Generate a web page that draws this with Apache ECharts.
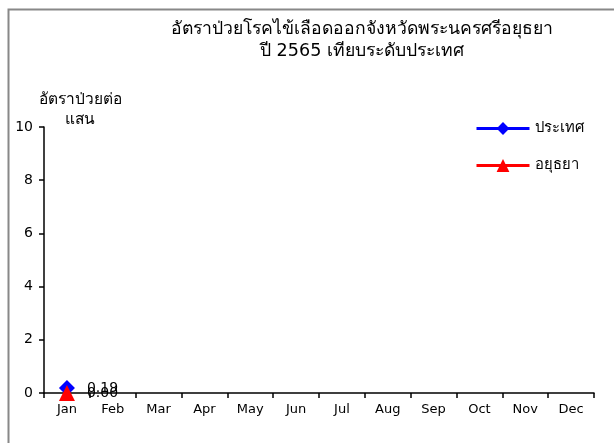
<!DOCTYPE html>
<html><head><meta charset="utf-8">
<script src="https://cdn.jsdelivr.net/npm/echarts@6/dist/echarts.min.js"></script>
<style>html,body{margin:0;padding:0;background:#fff}#c{width:614px;height:443px}</style>
</head><body><div id="c"></div>
<script>
var months = ['Jan','Feb','Mar','Apr','May','Jun','Jul','Aug','Sep','Oct','Nov','Dec'];
var countryRate = [0.19, null, null, null, null, null, null, null, null, null, null, null];
var ayutRate = [0.00, null, null, null, null, null, null, null, null, null, null, null];
var yTicks = [0, 2, 4, 6, 8, 10];
var FONT = 'Tahoma, "DejaVu Sans", "Noto Sans", sans-serif';
var chart = echarts.init(document.getElementById('c'));
chart.setOption({
  animation: false,
  textStyle: {fontFamily: FONT},
  graphic: [{type:'rect', shape:{x:8.5,y:9.5,width:620,height:450}, style:{fill:null, stroke:'#888', lineWidth:2}, silent:true}],
  title: {
    text: 'อัตราป่วยโรคไข้เลือดออกจังหวัดพระนครศรีอยุธยา\nปี 2565 เทียบระดับประเทศ',
    left: 362, top: 18, textAlign: 'center', padding: 0,
    textStyle: {fontSize: 17.6, fontWeight: 'normal', color: '#000', lineHeight: 22, fontFamily: FONT}
  },
  legend: {
    orient: 'vertical', left: 475, top: 121, itemGap: 22, padding: 0,
    itemWidth: 53, itemHeight: 16,
    lineStyle: {width: 3},
    textStyle: {fontSize: 14.8, color: '#000', fontFamily: FONT},
    data: ['ประเทศ', 'อยุธยา']
  },
  grid: {left: 44, right: 20, top: 127, bottom: 50, containLabel: false, outerBoundsMode: 'none'},
  xAxis: {
    type: 'category', data: months, boundaryGap: true,
    axisLine: {lineStyle: {color: '#000', width: 1.5}},
    axisTick: {show: true, alignWithLabel: false, length: 5, lineStyle: {color: '#000', width: 1.5}},
    axisLabel: {color: '#000', fontSize: 13, margin: 10, fontFamily: FONT}
  },
  yAxis: {
    type: 'value', min: yTicks[0], max: yTicks[yTicks.length-1], interval: 2,
    name: 'อัตราป่วยต่อ\nแสน', nameLocation: 'end', nameGap: 37, nameMoveOverlap: false,
    nameTextStyle: {color: '#000', fontSize: 15.5, align: 'center', verticalAlign: 'top', padding: [0,0,0,72], lineHeight: 20, fontFamily: FONT},
    axisLine: {show: true, lineStyle: {color: '#000', width: 1.5}},
    axisTick: {show: true, inside: false, length: 5, lineStyle: {color: '#000', width: 1.5}},
    splitLine: {show: false},
    axisLabel: {color: '#000', fontSize: 14, margin: 11, fontFamily: FONT}
  },
  series: [
    {
      name: 'ประเทศ', type: 'line', data: countryRate,
      symbol: 'diamond', symbolSize: 16, connectNulls: false,
      itemStyle: {color: '#0000ff'}, lineStyle: {color: '#0000ff', width: 3},
      label: {show: true, position: 'right', distance: 12, color: '#000', fontSize: 14, fontFamily: FONT, formatter: function(p){return p.value==null?'':p.value.toFixed(2);}}
    },
    {
      name: 'อยุธยา', type: 'line', data: ayutRate,
      symbol: 'triangle', symbolSize: 16, connectNulls: false,
      itemStyle: {color: '#ff0000'}, lineStyle: {color: '#ff0000', width: 3},
      label: {show: true, position: 'right', distance: 12, color: '#000', fontSize: 14, fontFamily: FONT, formatter: function(p){return p.value==null?'':p.value.toFixed(2);}}
    }
  ]
});
</script></body></html>
